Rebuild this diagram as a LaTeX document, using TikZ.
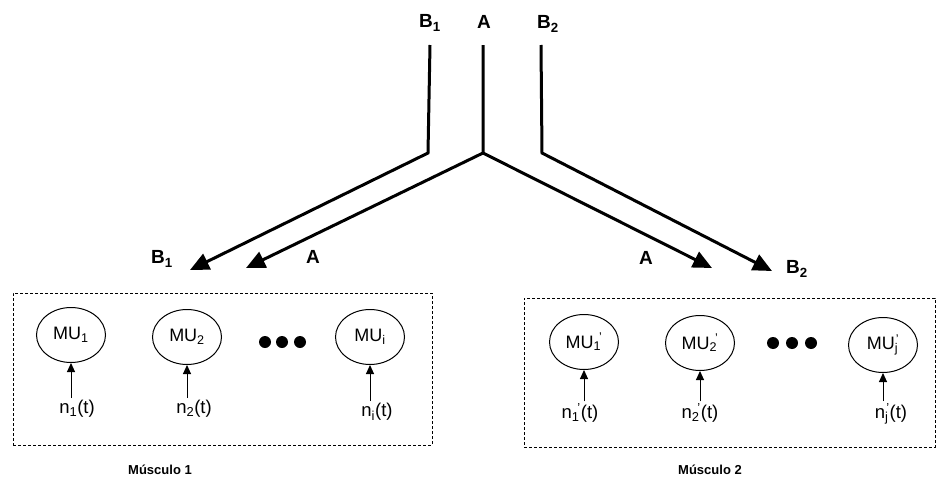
\documentclass[tikz,border=0pt]{standalone}
\usepackage{fontspec}
\setmainfont{Liberation Sans}
\usetikzlibrary{arrows.meta,shapes.geometric}
\newcommand{\subsup}[2]{\textsubscript{#1}\hspace{-0.12em}\textsuperscript{#2}}
\begin{document}
\begin{tikzpicture}[x=1pt,y=-1pt,
  lbl/.style={font=\bfseries\fontsize{19}{21}\selectfont, inner sep=0pt},
  fiber/.style={line width=3pt, line join=miter, -{Triangle[length=19pt,width=17pt]}},
  mu/.style={draw, line width=1pt, ellipse, minimum width=69pt, minimum height=55pt, inner sep=0pt, font=\fontsize{18}{20}\selectfont},
  inp/.style={font=\fontsize{18.5}{20}\selectfont, inner sep=1pt},
  inarrow/.style={line width=1pt, -{Triangle[length=9pt,width=8pt]}},
  box/.style={draw, line width=1pt, dash pattern=on 3pt off 2pt},
  dots/.style={fill, circle, inner sep=0pt, minimum size=12pt},
  muscap/.style={font=\bfseries\fontsize{13}{15}\selectfont, inner sep=0pt}]
\useasboundingbox (0,0) rectangle (938,479);
% top labels
\node[lbl] (tB1) at (430,23) {B\textsubscript{1}};
\node[lbl] (tA) at (484,22) {A};
\node[lbl] (tB2) at (548,24) {B\textsubscript{2}};
% fibre corners
\coordinate (sB1) at (430,45);
\coordinate (kB1) at (428,153);
\coordinate (sA) at (483,45);
\coordinate (kA) at (483,153);
\coordinate (sB2) at (541,45);
\coordinate (kB2) at (542,153);
\coordinate (eB1) at (190,270);
\coordinate (eAL) at (246,268);
\coordinate (eAR) at (712,268);
\coordinate (eB2) at (772,271);
\draw[fiber] (sB1) -- (kB1) -- (eB1);
\draw[fiber] (sA) -- (kA) -- (eAL);
\draw[fiber] (kA) -- (eAR);
\draw[fiber] (sB2) -- (kB2) -- (eB2);
% lower labels
\node[lbl] (lB1) at (162,259) {B\textsubscript{1}};
\node[lbl] (lA) at (313,257) {A};
\node[lbl] (rA) at (646,258) {A};
\node[lbl] (rB2) at (797,269) {B\textsubscript{2}};
% boxes
\node[box, minimum width=419pt, minimum height=152pt, inner sep=0pt] (m1) at (222.5,369) {};
\node[box, minimum width=411pt, minimum height=149pt, inner sep=0pt] (m2) at (729.5,372.5) {};
% muscle 1
\node[mu] (u1) at (71,335) {MU\textsubscript{1}};
\node[mu] (u2) at (187,337) {MU\textsubscript{2}};
\node[mu] (ui) at (370,337) {MU\textsubscript{i}};
\node[dots] (d1) at (265,342) {};
\node[dots] (d2) at (282,342) {};
\node[dots] (d3) at (300,342) {};
\node[inp] (n1) at (77,409) {n\textsubscript{1}(t)};
\node[inp] (n2) at (194,409) {n\textsubscript{2}(t)};
\node[inp] (ni) at (377,412) {n\textsubscript{i}(t)};
\draw[inarrow] (n1.north -| u1.south) ++(0,-1) -- (u1.south);
\draw[inarrow] (n2.north -| u2.south) ++(0,-1) -- (u2.south);
\draw[inarrow] (ni.north -| ui.south) ++(0,-1) -- (ui.south);
\node[muscap] (c1) at (160,470) {Músculo 1};
% muscle 2
\node[mu] (v1) at (584,342) {MU\subsup{1}{'}};
\node[mu] (v2) at (700,343) {MU\subsup{2}{'}};
\node[mu] (vj) at (883,345) {MU\subsup{j}{'}};
\node[dots] (e1) at (773,343) {};
\node[dots] (e2) at (792,343) {};
\node[dots] (e3) at (811,343) {};
\node[inp] (m1n) at (580,413) {n\subsup{1}{'}(t)};
\node[inp] (m2n) at (700,413) {n\subsup{2}{'}(t)};
\node[inp] (mjn) at (891,414) {n\subsup{j}{'}(t)};
\draw[inarrow] (m1n.north -| v1.south) ++(0,-1) -- (v1.south);
\draw[inarrow] (m2n.north -| v2.south) ++(0,-1) -- (v2.south);
\draw[inarrow] (mjn.north -| vj.south) ++(0,-1) -- (vj.south);
\node[muscap] (c2) at (710,470) {Músculo 2};
\end{tikzpicture}
\end{document}
